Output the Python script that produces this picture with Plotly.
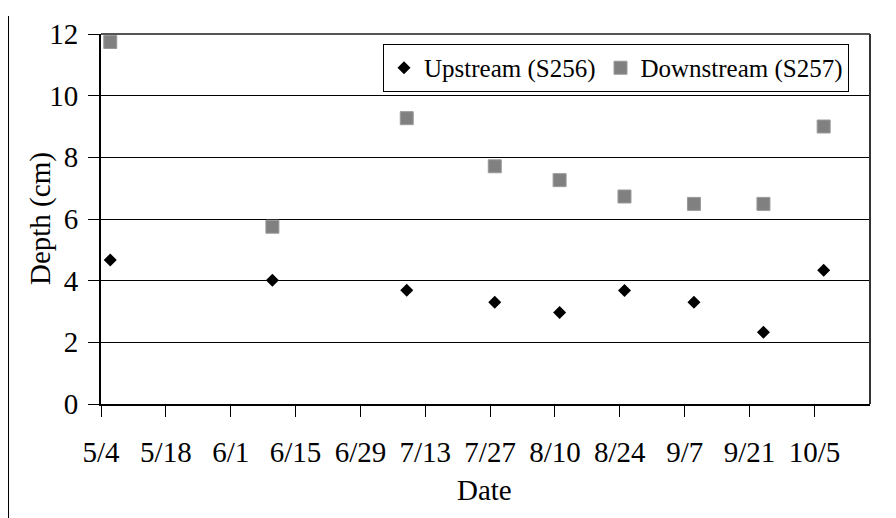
import plotly.graph_objects as go

dates = ["2005-05-06", "2005-06-10", "2005-07-09", "2005-07-28", "2005-08-11",
         "2005-08-25", "2005-09-09", "2005-09-24", "2005-10-07"]
upstream = [4.67, 4.01, 3.69, 3.30, 2.97, 3.68, 3.30, 2.33, 4.34]
downstream = [11.74, 5.75, 9.27, 7.71, 7.26, 6.73, 6.49, 6.49, 9.00]

tick_dates = ["2005-05-04", "2005-05-18", "2005-06-01", "2005-06-15", "2005-06-29",
              "2005-07-13", "2005-07-27", "2005-08-10", "2005-08-24", "2005-09-07",
              "2005-09-21", "2005-10-05"]
tick_labels = ["5/4", "5/18", "6/1", "6/15", "6/29", "7/13", "7/27", "8/10",
               "8/24", "9/7", "9/21", "10/5"]
y_ticks = [0, 2, 4, 6, 8, 10, 12]

FONT = "Liberation Serif, Times New Roman, serif"

fig = go.Figure()
fig.add_trace(go.Scatter(
    x=dates, y=upstream, mode="markers", name="Upstream (S256)",
    marker=dict(symbol="diamond", size=10, color="black"),
))
fig.add_trace(go.Scatter(
    x=dates, y=downstream, mode="markers", name="Downstream (S257)",
    marker=dict(symbol="square", size=13, color="#808080",
                line=dict(color="#9a9a9a", width=1)),
))

fig.update_layout(
    width=896, height=518,
    margin=dict(l=93, r=34, t=26, b=122),
    paper_bgcolor="white", plot_bgcolor="white",
    font=dict(family=FONT, size=29, color="black"),
    showlegend=True,
    legend=dict(
        orientation="h", x=0.9727, xanchor="right", y=0.973, yanchor="top",
        bordercolor="black", borderwidth=1, bgcolor="white",
        font=dict(family=FONT, size=25), itemwidth=30,
    ),
    xaxis=dict(
        type="date", range=["2005-05-04", "2005-10-17"],
        tickvals=tick_dates, ticktext=tick_labels,
        tickfont=dict(size=29),
        ticks="outside", ticklen=11, tickcolor="black", tickwidth=1,
        showline=True, linecolor="black", linewidth=2,
        showgrid=False, zeroline=False, automargin=False,
        ticklabelstandoff=10,
    ),
    yaxis=dict(
        range=[0, 12], tickvals=y_ticks,
        tickfont=dict(size=29),
        ticks="outside", ticklen=11, tickcolor="black", tickwidth=1,
        showline=True, linecolor="black", linewidth=2,
        showgrid=True, gridcolor="black", gridwidth=1,
        zeroline=False, automargin=False, ticklabelstandoff=4,
    ),
    annotations=[
        dict(text="Date", xref="paper", yref="paper", x=0.4993, y=-0.2324,
             xanchor="center", yanchor="middle", showarrow=False,
             font=dict(family=FONT, size=29)),
        dict(text="Depth (cm)", xref="paper", yref="paper", x=-0.0793, y=0.5,
             xanchor="center", yanchor="middle", showarrow=False, textangle=-90,
             font=dict(family=FONT, size=29)),
    ],
    shapes=[
        dict(type="line", xref="paper", yref="paper", x0=0, x1=1, y0=1, y1=1,
             line=dict(color="#555555", width=2)),
        dict(type="line", xref="paper", yref="paper", x0=1, x1=1, y0=0, y1=1,
             line=dict(color="#333333", width=2)),
        # outer chart frame: left edge
        dict(type="line", xref="paper", yref="paper", x0=-0.1209, x1=-0.1209,
             y0=-0.4, y1=1.0486, line=dict(color="black", width=2)),
        # outer chart frame: top edge, placed in pixels above the plot top
        dict(type="line", xref="paper", yref="paper",
             ysizemode="pixel", yanchor=1, y0=27, y1=27,
             x0=-0.1209, x1=1.1, line=dict(color="black", width=2)),
    ],
)

fig.write_html("out.html")
